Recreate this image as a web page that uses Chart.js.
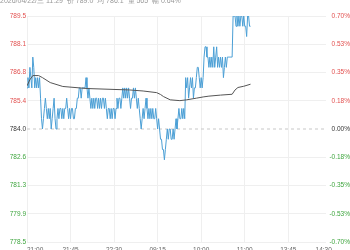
<!DOCTYPE html>
<html><head><meta charset="utf-8">
<script src="https://cdn.jsdelivr.net/npm/chart.js@4/dist/chart.umd.min.js"></script>
<style>
html,body{margin:0;padding:0;background:#fff;overflow:hidden}
canvas{display:block}
</style></head><body>
<canvas id="c" width="350" height="250"></canvas>
<script>
const headerText = '2026/04/22/三 11:29  价 789.0  均 786.1  量 565  幅 0.64%';
const prevClose = 784.0;
const timeTickValues = [0,45,90,135,180,225,270,315];
const timeTickLabels = ['21:00','21:45','22:30','09:15','10:00','11:00','13:45','14:30'];
const priceTickValues = [778.5,779.875,781.25,782.625,784,785.375,786.75,788.125,789.5];
const priceTickLabels = ['778.5','779.9','781.3','782.6','784.0','785.4','786.8','788.1','789.5'];
const pctTickLabels = ['-0.70%','-0.53%','-0.35%','-0.18%','0.00%','0.18%','0.35%','0.53%','0.70%'];
// one price per trading minute, from 21:00
const prices = [
786.0,786.5,786.0,787.0,786.5,786.0,787.5,787.0,786.0,786.5,
786.0,786.5,786.0,786.5,785.5,784.5,784.0,784.5,785.0,785.5,
785.0,784.5,785.0,784.5,785.0,784.0,784.5,785.0,785.5,784.5,
784.0,784.5,785.0,784.5,785.0,785.0,784.5,785.0,784.5,785.0,
785.0,785.5,785.0,784.5,785.0,784.5,785.0,785.0,784.5,784.5,
785.0,785.0,785.5,785.5,786.0,786.0,785.5,786.0,786.0,786.0,
786.0,786.5,786.0,785.5,786.0,785.5,785.0,785.5,785.0,785.5,
785.0,785.5,785.5,785.0,785.5,785.0,785.5,785.0,785.5,785.5,
785.0,785.5,785.0,784.5,785.0,785.0,784.5,785.0,784.5,785.0,
785.0,784.5,785.0,785.5,785.0,785.5,785.5,785.0,785.5,786.0,
785.5,786.0,785.5,786.0,785.5,786.0,785.5,785.0,785.5,785.5,
786.0,785.5,786.0,785.5,785.0,785.5,785.0,784.5,784.0,784.5,
785.0,784.5,785.0,785.5,785.0,784.5,785.0,784.5,785.0,784.5,
785.0,784.5,784.5,785.0,784.5,784.0,784.5,784.0,783.5,783.5,
783.0,783.0,782.5,783.0,783.5,784.0,783.5,784.0,784.0,783.5,
783.5,784.0,783.5,784.0,784.5,784.0,784.5,785.0,784.5,784.5,
785.0,784.5,785.0,784.5,786.5,786.0,786.5,785.5,786.0,786.5,
786.0,786.5,785.5,786.0,786.0,786.5,787.0,787.0,786.5,786.0,
786.5,786.0,786.5,787.5,788.0,788.0,787.5,787.5,787.0,787.5,
787.0,787.5,787.0,788.0,787.0,787.5,788.0,787.0,787.5,787.0,
787.5,787.0,787.5,786.5,787.0,787.5,787.0,787.5,787.5,787.5,
787.5,787.5,787.5,789.5,789.5,789.5,789.0,789.5,789.0,789.5,
789.0,789.5,789.5,789.0,789.5,789.0,789.0,788.5,789.5,789.5,
789.0,789.0
];
const avgMinutes = [0,3,6,12,16,24,37,62,106,120,134,138,141,148,158,165,175,182,188,200,212,215,218,224,231];
const avgValues = [786.1,786.4,786.6,786.6,786.5,786.26,786.07,785.97,785.9,785.85,785.77,785.68,785.58,785.42,785.38,785.42,785.5,785.56,785.6,785.65,785.69,785.9,786.02,786.08,786.18];

const RED='#e2504f', GREEN='#3ea53e', DARK='#333';
const FONT='"Liberation Sans", Arial, sans-serif';
const X_MAX = 309;

const headerPlugin = {
  id:'hdr',
  afterDraw(chart){
    const ctx = chart.ctx;
    ctx.save();
    ctx.font = '7px ' + FONT;
    ctx.fillStyle = '#999';
    ctx.textBaseline = 'middle';
    ctx.textAlign = 'left';
    ctx.fillText(headerText, 0, 1.5);
    ctx.restore();
  }
};

function labelColor(i){ return i < 4 ? GREEN : (i === 4 ? DARK : RED); }

new Chart(document.getElementById('c'), {
  type:'line',
  data:{
    datasets:[
      {label:'price', data: prices.map((v,i)=>({x:i,y:v})), borderColor:'#4b9fd5', borderWidth:1, pointRadius:0, tension:0, order:1},
      {label:'avg', data: avgMinutes.map((m,i)=>({x:m,y:avgValues[i]})), borderColor:'#555', borderWidth:1, pointRadius:0, tension:0, order:0},
      {label:'prev', data:[{x:0,y:prevClose},{x:X_MAX,y:prevClose}], borderColor:'#c8c8c8', borderWidth:1, borderDash:[3,3], pointRadius:0, order:2}
    ]
  },
  options:{
    responsive:false, animation:false,
    layout:{padding:{top:16,right:0,left:0,bottom:0}},
    plugins:{legend:{display:false}, tooltip:{enabled:false}},
    scales:{
      x:{type:'linear', min:0, max:X_MAX, position:'bottom',
        afterBuildTicks(s){ s.ticks = timeTickValues.map(v=>({value:v})); },
        afterFit(s){ s.height = 8; },
        ticks:{autoSkip:false, maxRotation:0, align:'inner', padding:4, color:'#666',
          font:{size:6.5, family:FONT}, callback:(v,i)=>timeTickLabels[i]},
        grid:{drawTicks:false, color:(c)=> (c.tick && c.tick.value > X_MAX) ? 'rgba(0,0,0,0)' : '#efefef'},
        border:{display:false}
      },
      y:{type:'linear', min:778.5, max:789.5, position:'left',
        afterBuildTicks(s){ s.ticks = priceTickValues.map(v=>({value:v})); },
        afterFit(s){ s.width = 27; },
        ticks:{padding:1, font:{size:6.5, family:FONT}, color:(c)=>labelColor(c.index), callback:(v,i)=>priceTickLabels[i]},
        grid:{drawTicks:false, color:(c)=> c.index === 4 ? 'rgba(0,0,0,0)' : '#efefef'},
        border:{display:false}
      },
      y2:{type:'linear', min:778.5, max:789.5, position:'right',
        afterBuildTicks(s){ s.ticks = priceTickValues.map(v=>({value:v})); },
        afterFit(s){ s.width = 24; },
        ticks:{padding:1, crossAlign:'far', font:{size:6.5, family:FONT}, color:(c)=>labelColor(c.index), callback:(v,i)=>pctTickLabels[i]},
        grid:{drawOnChartArea:false, drawTicks:false},
        border:{display:false}
      }
    }
  },
  plugins:[headerPlugin]
});
</script>
</body></html>
